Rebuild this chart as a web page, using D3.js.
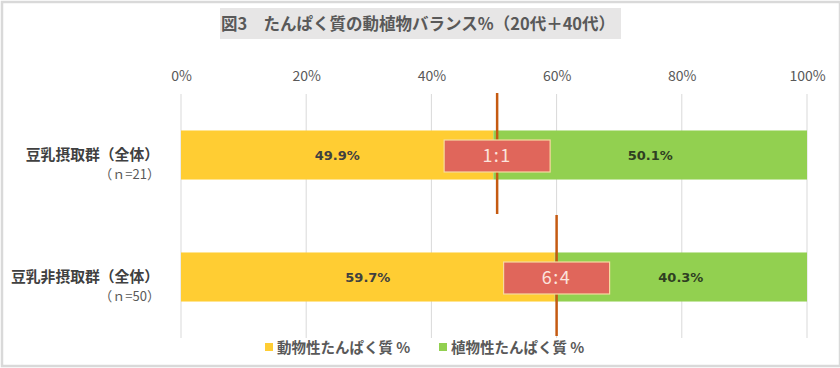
<!DOCTYPE html>
<html><head><meta charset="utf-8">
<script src="https://cdn.jsdelivr.net/npm/d3@7"></script>
<style>body{margin:0;background:#fff;}svg{display:block;font-family:"Noto Sans CJK JP","Noto Sans",sans-serif;}</style>
</head><body><svg id="c" width="840" height="368"></svg>
<script>
const title = "図3　たんぱく質の動植物バランス%（20代＋40代）";
const categories = ["豆乳摂取群（全体）", "豆乳非摂取群（全体）"];
const nLabels = ["（ｎ=21）", "（ｎ=50）"];
const animal = [49.9, 59.7];
const plant = [50.1, 40.3];
const ratioLabels = ["1:1", "6:4"];
const ratioPos = [50.5, 60];
const ticks = [0, 20, 40, 60, 80, 100];
const seriesNames = ["動物性たんぱく質 %", "植物性たんぱく質 %"];
const colors = ["#ffcd33", "#92d050"];

const svg = d3.select("#c");
svg.append("rect").attr("x",2).attr("y",2).attr("width",838).attr("height",364)
  .attr("fill","#fff").attr("stroke","#d9d9d9").attr("stroke-width",2.5);

// title
svg.append("rect").attr("x",220).attr("y",8).attr("width",401).attr("height",31).attr("fill","#e7e6e6");
svg.append("text").attr("x",418).attr("y",30).attr("text-anchor","middle")
  .attr("font-size",16.5).attr("font-weight","bold").attr("fill","#595959").text(title);

const x = d3.scaleLinear().domain([0,100]).range([181,807]);
const y = d3.scaleBand().domain(categories).range([94,338]).paddingInner(0.598).paddingOuter(0.299);

// grid
svg.append("g").selectAll("line").data(ticks).join("line")
  .attr("x1",d=>x(d)).attr("x2",d=>x(d)).attr("y1",94).attr("y2",338)
  .attr("stroke","#d9d9d9").attr("stroke-width",1);
const ax = d3.axisTop(x).tickValues(ticks).tickFormat(d=>d+"%").tickSize(0).tickPadding(0);
const gA = svg.append("g").attr("transform","translate(0,81)").call(ax);
gA.select(".domain").remove();
gA.selectAll("text").attr("font-size",14).attr("fill","#595959").attr("font-family","'Noto Sans CJK JP',sans-serif");

const data = categories.map((c,i)=>({c, a:animal[i], p:plant[i], r:ratioLabels[i], rp:ratioPos[i], n:nLabels[i]}));

const g = svg.append("g");
g.selectAll("rect.a").data(data).join("rect").attr("class","a")
  .attr("x",x(0)).attr("y",d=>y(d.c)).attr("width",d=>x(d.a)-x(0)).attr("height",y.bandwidth()).attr("fill",colors[0]);
g.selectAll("rect.p").data(data).join("rect").attr("class","p")
  .attr("x",d=>x(d.a)).attr("y",d=>y(d.c)).attr("width",d=>x(d.a+d.p)-x(d.a)).attr("height",y.bandwidth()).attr("fill",colors[1]);

g.selectAll("text.a").data(data).join("text").attr("class","a")
  .attr("x",d=>(x(0)+x(d.a))/2).attr("y",d=>y(d.c)+y.bandwidth()/2+5).attr("text-anchor","middle")
  .attr("font-size",13).attr("font-weight","bold").attr("fill","#404040")
  .attr("font-family","'DejaVu Sans',sans-serif").text(d=>d.a.toFixed(1)+"%");
g.selectAll("text.p").data(data).join("text").attr("class","p")
  .attr("x",d=>(x(d.a)+x(d.a+d.p))/2).attr("y",d=>y(d.c)+y.bandwidth()/2+5).attr("text-anchor","middle")
  .attr("font-size",13).attr("font-weight","bold").attr("fill","#2f3f22")
  .attr("font-family","'DejaVu Sans',sans-serif").text(d=>d.p.toFixed(1)+"%");

// marker lines
g.selectAll("line.m").data(data).join("line").attr("class","m")
  .attr("x1",d=>x(d.rp)).attr("x2",d=>x(d.rp))
  .attr("y1",d=>y(d.c)+y.bandwidth()/2-y.step()/2-1).attr("y2",d=>y(d.c)+y.bandwidth()/2+y.step()/2-2)
  .attr("stroke","#c55a11").attr("stroke-width",2.5);
// ratio boxes
g.selectAll("rect.r").data(data).join("rect").attr("class","r")
  .attr("x",d=>x(d.rp)-53).attr("y",d=>y(d.c)+y.bandwidth()/2-15).attr("width",106).attr("height",32)
  .attr("fill","#e0665b").attr("stroke","#f6d9a0").attr("stroke-width",1.2);
g.selectAll("text.r").data(data).join("text").attr("class","r")
  .attr("x",d=>x(d.rp)).attr("y",d=>y(d.c)+y.bandwidth()/2+7).attr("text-anchor","middle")
  .attr("font-size",18).attr("fill","#fbe3dc").attr("letter-spacing",1.5).text(d=>d.r);

// category labels
g.selectAll("text.c").data(data).join("text").attr("class","c")
  .attr("x",159).attr("y",d=>y(d.c)+y.bandwidth()/2+5).attr("text-anchor","end")
  .attr("font-size",14.8).attr("font-weight","bold").attr("fill","#404040").text(d=>d.c);
g.selectAll("text.n").data(data).join("text").attr("class","n")
  .attr("x",160).attr("y",d=>y(d.c)+y.bandwidth()/2+24).attr("text-anchor","end")
  .attr("font-size",13).attr("fill","#595959").text(d=>d.n);

// legend
const legX = [265, 439];
const lg = svg.append("g").selectAll("g").data(seriesNames).join("g")
  .attr("transform",(d,i)=>`translate(${legX[i]},348)`);
lg.append("rect").attr("x",0).attr("y",-5).attr("width",8).attr("height",8).attr("fill",(d,i)=>colors[i]);
lg.append("text").attr("x",12).attr("y",5).attr("font-size",14.5).attr("font-weight","bold").attr("fill","#595959").text(d=>d);
</script></body></html>
